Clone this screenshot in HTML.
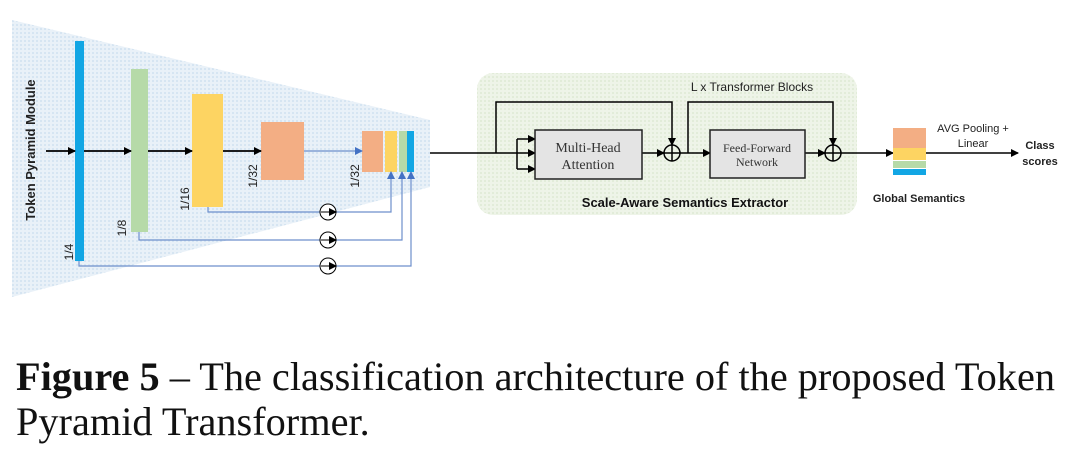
<!DOCTYPE html>
<html><head><meta charset="utf-8"><style>
html,body{margin:0;padding:0;background:#fff;width:1080px;height:461px;overflow:hidden}
svg{position:absolute;left:0;top:0}
.cap{position:absolute;left:16px;font-family:"Liberation Serif",serif;font-size:40.3px;color:#111;white-space:nowrap;line-height:1}
</style></head><body>
<svg width="1080" height="461" viewBox="0 0 1080 461" xmlns="http://www.w3.org/2000/svg" font-family="Liberation Sans, sans-serif">
<defs>
<pattern id="dots" width="4" height="4" patternUnits="userSpaceOnUse"><rect width="4" height="4" fill="#e9f1f8"/><rect width="2" height="2" fill="#d6e5f2"/></pattern>
<pattern id="gdots" width="4" height="4" patternUnits="userSpaceOnUse"><rect width="4" height="4" fill="#eef4e8"/><rect width="2" height="2" fill="#e2ecd9"/></pattern>
<marker id="ak" markerWidth="8" markerHeight="8" refX="7" refY="4" orient="auto" markerUnits="userSpaceOnUse"><path d="M0,0 L8,4 L0,8z" fill="#000"/></marker>
<marker id="ab" markerWidth="8" markerHeight="8" refX="7" refY="4" orient="auto" markerUnits="userSpaceOnUse"><path d="M0,0 L8,4 L0,8z" fill="#4472c4"/></marker>
</defs>
<polygon points="12,20 430,120 430,187 12,297" fill="url(#dots)"/>
<text transform="translate(35,150) rotate(-90)" text-anchor="middle" font-size="13" font-weight="bold" fill="#222">Token Pyramid Module</text>
<rect x="75" y="41" width="9" height="220" fill="#12a6e4"/>
<rect x="131" y="69" width="17" height="163" fill="#b6daa8"/>
<rect x="192" y="94" width="31" height="113" fill="#fdd462"/>
<rect x="261" y="122" width="43" height="58" fill="#f3ae84"/>
<rect x="362" y="131" width="21" height="41" fill="#f3ae84"/>
<rect x="385" y="131" width="12" height="41" fill="#fdd462"/>
<rect x="399" y="131" width="8" height="41" fill="#b6daa8"/>
<rect x="407" y="131" width="7" height="41" fill="#12a6e4"/>
<g stroke="#000" stroke-width="1.8" fill="none">
<line x1="46" y1="151" x2="75" y2="151" marker-end="url(#ak)"/>
<line x1="84" y1="151" x2="131" y2="151" marker-end="url(#ak)"/>
<line x1="148" y1="151" x2="192" y2="151" marker-end="url(#ak)"/>
<line x1="223" y1="151" x2="261" y2="151" marker-end="url(#ak)"/>
</g>
<g stroke="#6d8fcc" stroke-width="1.2" fill="none">
<line x1="304" y1="151" x2="362" y2="151" marker-end="url(#ab)"/>
<polyline points="208,207 208,212 391,212 391,172" marker-end="url(#ab)"/>
<polyline points="139,232 139,240 402,240 402,172" marker-end="url(#ab)"/>
<polyline points="79,261 79,266 411,266 411,172" marker-end="url(#ab)"/>
</g>
<g stroke="#000" stroke-width="1" fill="#fff">
<circle cx="328" cy="212" r="8"/><circle cx="328" cy="240" r="8"/><circle cx="328" cy="266" r="8"/>
</g>
<g stroke="#000" stroke-width="1" fill="none">
<line x1="321" y1="212" x2="336" y2="212" marker-end="url(#ak)"/>
<line x1="321" y1="240" x2="336" y2="240" marker-end="url(#ak)"/>
<line x1="321" y1="266" x2="336" y2="266" marker-end="url(#ak)"/>
</g>
<g font-size="12" fill="#222">
<text transform="translate(73,252) rotate(-90)" text-anchor="middle">1/4</text>
<text transform="translate(126,228) rotate(-90)" text-anchor="middle">1/8</text>
<text transform="translate(189,199) rotate(-90)" text-anchor="middle">1/16</text>
<text transform="translate(257,176) rotate(-90)" text-anchor="middle">1/32</text>
<text transform="translate(359,176) rotate(-90)" text-anchor="middle">1/32</text>
</g>
<rect x="477" y="73" width="380" height="142" rx="16" fill="url(#gdots)"/>
<g stroke="#000" stroke-width="1.5" fill="none">
<line x1="430" y1="153" x2="517" y2="153"/>
<polyline points="496,153 496,102 672,102 672,145" marker-end="url(#ak)"/>
<line x1="517" y1="139" x2="517" y2="169"/>
<line x1="517" y1="139" x2="535" y2="139" marker-end="url(#ak)"/>
<line x1="517" y1="153" x2="535" y2="153" marker-end="url(#ak)"/>
<line x1="517" y1="169" x2="535" y2="169" marker-end="url(#ak)"/>
<line x1="642" y1="153" x2="664" y2="153" marker-end="url(#ak)"/>
<line x1="680" y1="153" x2="710" y2="153" marker-end="url(#ak)"/>
<polyline points="688,153 688,102 833,102 833,145" marker-end="url(#ak)"/>
<line x1="805" y1="153" x2="825" y2="153" marker-end="url(#ak)"/>
<line x1="841" y1="153" x2="893" y2="153" marker-end="url(#ak)"/>
<line x1="926" y1="153" x2="1018" y2="153" marker-end="url(#ak)"/>
<circle cx="672" cy="153" r="8"/><circle cx="833" cy="153" r="8"/>
<line x1="664" y1="153" x2="680" y2="153"/><line x1="672" y1="145" x2="672" y2="161"/>
<line x1="825" y1="153" x2="841" y2="153"/><line x1="833" y1="145" x2="833" y2="161"/>
</g>
<rect x="535" y="130" width="107" height="49" fill="#e4e4e4" stroke="#222" stroke-width="1.5"/>
<rect x="710" y="130" width="95" height="48" fill="#e4e4e4" stroke="#222" stroke-width="1.5"/>
<g font-family="Liberation Serif, serif" fill="#333" text-anchor="middle">
<text x="588" y="152" font-size="14">Multi-Head</text><text x="588" y="169" font-size="14">Attention</text>
<text x="757" y="152" font-size="12">Feed-Forward</text><text x="757" y="166" font-size="12">Network</text>
</g>
<text x="752" y="91" font-size="12" text-anchor="middle" fill="#222">L x Transformer Blocks</text>
<text x="685" y="207" font-size="13" font-weight="bold" text-anchor="middle" fill="#111">Scale-Aware Semantics Extractor</text>
<rect x="893" y="128" width="33" height="20" fill="#f3ae84"/>
<rect x="893" y="148" width="33" height="12" fill="#fdd462"/>
<rect x="893" y="161" width="33" height="7" fill="#b6daa8"/>
<rect x="893" y="169" width="33" height="6" fill="#12a6e4"/>
<g font-size="11" fill="#222" text-anchor="middle">
<text x="973" y="132">AVG Pooling +</text><text x="973" y="147">Linear</text>
<text x="1040" y="149" font-weight="bold">Class</text><text x="1040" y="165" font-weight="bold">scores</text>
<text x="919" y="202" font-weight="bold">Global Semantics</text>
</g>
</svg>
<div class="cap" style="top:357px"><b>Figure 5</b> – The classification architecture of the proposed Token</div>
<div class="cap" style="top:402px">Pyramid Transformer.</div>
</body></html>
